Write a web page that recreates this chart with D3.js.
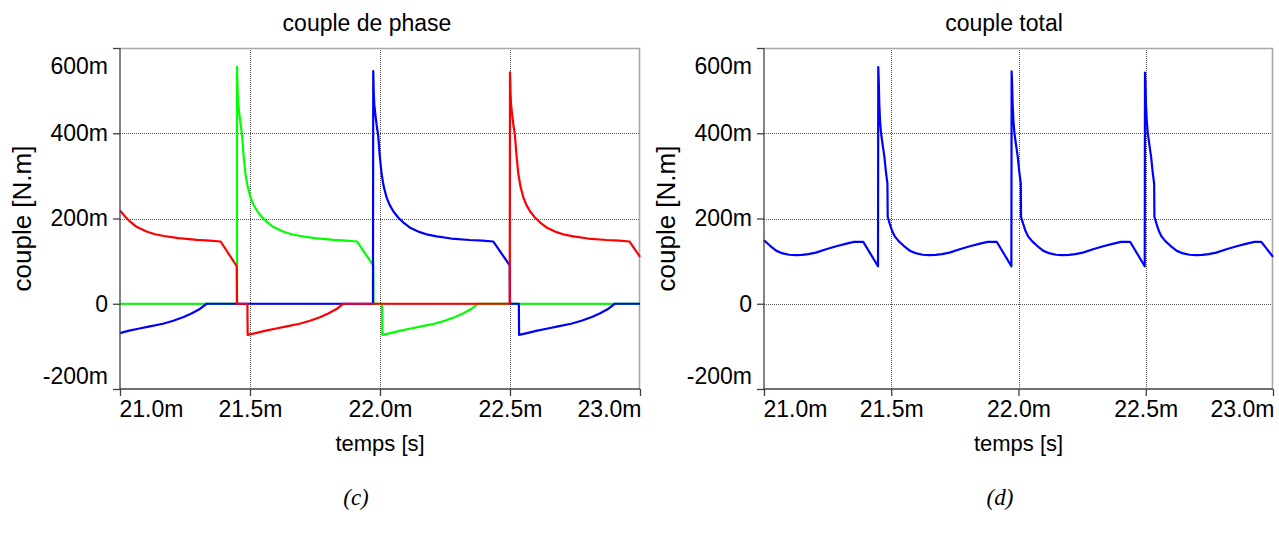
<!DOCTYPE html>
<html>
<head>
<meta charset="utf-8">
<script src="https://cdn.jsdelivr.net/npm/d3@7"></script>
<style>
  body { margin: 0; background: #fff; }
  svg { display: block; }
</style>
</head>
<body>
<svg id="chart" width="1279" height="542"></svg>
<script>
// time in ms, torque in mN.m
const xTicks = [21.0, 21.5, 22.0, 22.5, 23.0];
const yTicks = [-200, 0, 200, 400, 600];
const xTickLabels = ["21.0m", "21.5m", "22.0m", "22.5m", "23.0m"];
const yTickLabels = ["-200m", "0", "200m", "400m", "600m"];

// phase torques [t, value]
const greenPhase = [
  [21.0, 0], [21.450, 0], [21.450, 556], [21.452, 505], [21.454, 475], [21.458, 450],
  [21.463, 425], [21.469, 398], [21.475, 350], [21.482, 307], [21.490, 278], [21.501, 251],
  [21.513, 233], [21.527, 218], [21.545, 204], [21.565, 192], [21.590, 180], [21.629, 169],
  [21.660, 163], [21.694, 159], [21.750, 154], [21.821, 150], [21.870, 148], [21.912, 146],
  [21.974, 90], [21.975, 0], [22.008, 0],
  [22.009, -73], [22.039, -69], [22.079, -63], [22.119, -58], [22.159, -53], [22.209, -47],
  [22.249, -40], [22.289, -31], [22.319, -23], [22.349, -13], [22.377, 0], [23.0, 0]
];
const bluePhase = [
  [21.0, -69], [21.035, -63], [21.075, -58], [21.115, -53], [21.165, -47], [21.205, -40],
  [21.245, -31], [21.275, -23], [21.305, -13], [21.333, 0], [21.973, 0],
  [21.974, 546], [21.976, 495], [21.978, 468], [21.982, 445], [21.987, 420], [21.993, 395],
  [21.999, 348], [22.006, 305], [22.014, 276], [22.025, 250], [22.037, 232], [22.051, 217],
  [22.069, 203], [22.089, 191], [22.114, 179], [22.153, 168], [22.184, 162], [22.218, 158],
  [22.274, 153], [22.345, 149.5], [22.394, 148], [22.436, 146], [22.499, 90], [22.500, 0],
  [22.534, 0],
  [22.535, -73], [22.565, -69], [22.605, -63], [22.645, -58], [22.685, -53], [22.735, -47],
  [22.775, -40], [22.815, -31], [22.845, -23], [22.875, -13], [22.903, 0], [23.0, 0]
];
const redPhase = [
  [21.0, 219], [21.020, 204], [21.040, 192], [21.065, 180], [21.104, 169], [21.135, 163],
  [21.169, 159], [21.225, 154], [21.296, 150], [21.345, 148], [21.387, 146], [21.449, 88],
  [21.450, 0], [21.490, 0],
  [21.491, -73], [21.521, -69], [21.561, -63], [21.601, -58], [21.641, -53], [21.691, -47],
  [21.731, -40], [21.771, -31], [21.801, -23], [21.831, -13], [21.859, 0], [22.499, 0],
  [22.500, 543], [22.502, 495], [22.504, 468], [22.508, 445], [22.513, 420], [22.519, 395],
  [22.525, 348], [22.532, 305], [22.540, 276], [22.551, 250], [22.563, 232], [22.577, 217],
  [22.595, 203], [22.615, 191], [22.640, 179], [22.679, 168], [22.710, 162], [22.744, 158],
  [22.800, 153], [22.871, 149.5], [22.920, 148], [22.960, 146], [23.0, 110]
];

// total torque [t, value]
const totalTorque = [
  [21.0, 149], [21.024, 136], [21.049, 124], [21.074, 118], [21.099, 115], [21.124, 114],
  [21.149, 114.5], [21.174, 116.5], [21.204, 120], [21.244, 128], [21.284, 135], [21.324, 141],
  [21.354, 145], [21.390, 145], [21.448, 88],
  [21.449, 555], [21.451, 520], [21.453, 470], [21.456, 430], [21.460, 400], [21.467, 370],
  [21.473, 345], [21.479, 310], [21.485, 282], [21.486, 204], [21.494, 188], [21.504, 170],
  [21.514, 158], [21.529, 147], [21.549, 136], [21.574, 124], [21.599, 118], [21.624, 115],
  [21.649, 114], [21.674, 114.5], [21.699, 116.5], [21.729, 120], [21.769, 128], [21.809, 135],
  [21.849, 141], [21.879, 145], [21.915, 145], [21.972, 88],
  [21.973, 545], [21.975, 515], [21.977, 468], [21.980, 430], [21.984, 400], [21.991, 370],
  [21.997, 345], [22.003, 310], [22.009, 282], [22.010, 204], [22.018, 188], [22.028, 170],
  [22.038, 158], [22.053, 147], [22.073, 136], [22.098, 124], [22.123, 118], [22.148, 115],
  [22.173, 114], [22.198, 114.5], [22.223, 116.5], [22.253, 120], [22.293, 128], [22.333, 135],
  [22.373, 141], [22.403, 145], [22.439, 145], [22.496, 88],
  [22.497, 542], [22.499, 512], [22.501, 466], [22.504, 430], [22.508, 400], [22.515, 370],
  [22.521, 345], [22.527, 310], [22.533, 282], [22.534, 204], [22.542, 188], [22.552, 170],
  [22.562, 158], [22.577, 147], [22.597, 136], [22.622, 124], [22.647, 118], [22.672, 115],
  [22.697, 114], [22.722, 114.5], [22.747, 116.5], [22.777, 120], [22.817, 128], [22.857, 135],
  [22.897, 141], [22.927, 145], [22.954, 145], [23.0, 110]
];

const SANS = "'Liberation Sans', Arial, sans-serif";
const SERIF = "'Liberation Serif', 'Times New Roman', serif";

const svg = d3.select("#chart");
svg.append("rect").attr("width", 1279).attr("height", 542).attr("fill", "#fff");

function drawPanel(opts) {
  const { left, right, top, bottom, title, titleX, series, caption, captionX } = opts;
  const x = d3.scaleLinear().domain([21.0, 23.0]).range([left, right]);
  const y = d3.scaleLinear().domain([-200, 600]).range([bottom, top]);
  const g = svg.append("g");

  // grid
  const grid = g.append("g").attr("stroke", "#555").attr("stroke-width", 1).attr("stroke-dasharray", "1,1");
  xTicks.slice(1, -1).forEach(t => {
    grid.append("line").attr("x1", Math.round(x(t)) + 0.5).attr("x2", Math.round(x(t)) + 0.5)
      .attr("y1", top).attr("y2", bottom);
  });
  yTicks.slice(1, -1).forEach(v => {
    grid.append("line").attr("y1", Math.round(y(v)) + 0.5).attr("y2", Math.round(y(v)) + 0.5)
      .attr("x1", left).attr("x2", right);
  });

  // frame (top and right)
  g.append("path")
    .attr("d", `M${left},${top + 0.5}H${right - 0.5}V${bottom}`)
    .attr("fill", "none").attr("stroke", "#a8a8a8").attr("stroke-width", 1.6);

  // curves
  const line = d3.line().x(d => x(d[0])).y(d => y(d[1]));
  series.forEach(s => {
    g.append("path").datum(s.data)
      .attr("d", line)
      .attr("fill", "none")
      .attr("stroke", s.color)
      .attr("stroke-width", 2.2)
      .attr("stroke-linejoin", "round");
  });

  // axes
  const yAxis = g.append("g").attr("transform", `translate(${left},0)`)
    .call(d3.axisLeft(y).tickValues(yTicks).tickSize(7).tickPadding(5)
      .tickFormat((d, i) => yTickLabels[i]));
  const xAxis = g.append("g").attr("transform", `translate(0,${bottom})`)
    .call(d3.axisBottom(x).tickValues(xTicks).tickSize(7).tickPadding(5)
      .tickFormat((d, i) => xTickLabels[i]));

  [yAxis, xAxis].forEach(a => {
    a.select(".domain").attr("stroke", "#404040").attr("stroke-width", 1.3);
    a.selectAll(".tick line").attr("stroke", "#404040").attr("stroke-width", 1.3);
    a.selectAll(".tick text").attr("font-size", 23).attr("font-family", SANS).attr("fill", "#000");
  });
  yAxis.select(".domain").attr("d", `M0,${top}V${bottom}`);
  xAxis.select(".domain").attr("d", `M${left},0H${right}`);

  // end labels kept inside the plot span
  yAxis.selectAll(".tick text").each(function (d) {
    const t = d3.select(this);
    if (d === 600) t.attr("dy", "1.1em");
    if (d === -200) t.attr("dy", "-0.25em");
  });
  xAxis.selectAll(".tick text").each(function (d) {
    const t = d3.select(this);
    if (d === 21.0) t.attr("text-anchor", "start").attr("x", -1);
    if (d === 23.0) t.attr("text-anchor", "end").attr("x", 1);
  });

  // titles
  svg.append("text").attr("x", titleX).attr("y", 31).attr("text-anchor", "middle")
    .attr("font-family", SANS).attr("font-size", 23).text(title);
  svg.append("text").attr("x", (left + right) / 2).attr("y", 451).attr("text-anchor", "middle")
    .attr("font-family", SANS).attr("font-size", 22).text("temps [s]");
  svg.append("text")
    .attr("transform", `translate(${left - 98},${(top + bottom) / 2}) rotate(-90)`)
    .attr("text-anchor", "middle").attr("dy", "0.35em")
    .attr("font-family", SANS).attr("font-size", 26).text("couple [N.m]");
  svg.append("text").attr("x", captionX).attr("y", 505).attr("text-anchor", "middle")
    .attr("font-family", SERIF)
    .attr("font-style", "italic").attr("font-size", 23).text(caption);
}

drawPanel({
  left: 120, right: 640, top: 48, bottom: 389,
  title: "couple de phase", titleX: 367,
  series: [
    { data: greenPhase, color: "#00ff00" },
    { data: bluePhase, color: "#0000ff" },
    { data: redPhase, color: "#ff0000" }
  ],
  caption: "(c)", captionX: 356
});

drawPanel({
  left: 764, right: 1273, top: 48, bottom: 389,
  title: "couple total", titleX: 1004,
  series: [{ data: totalTorque, color: "#0000ff" }],
  caption: "(d)", captionX: 1000
});
</script>
</body>
</html>
